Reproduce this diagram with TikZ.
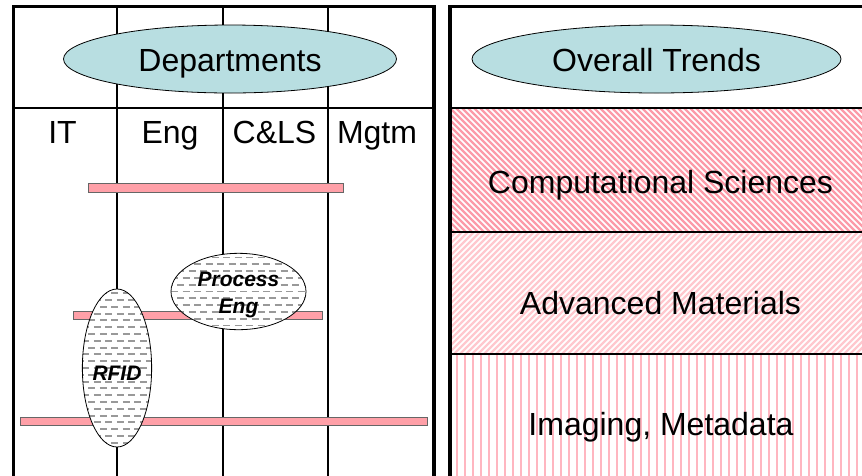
\documentclass[tikz,border=0pt]{standalone}
\usepackage{fontspec}
\setmainfont{Liberation Sans}
\usepackage{xcolor}
\usepackage{tikz}
\usetikzlibrary{shapes.geometric}

\definecolor{headfill}{RGB}{184,222,225}
\definecolor{barpink}{RGB}{255,160,168}
\definecolor{hatchdark}{RGB}{252,155,168}
\definecolor{hatchlight}{RGB}{255,200,206}
\definecolor{hatchvert}{RGB}{255,182,192}

% two-line project titles, dropped a little inside their ellipse
\newcommand\projtext[1]{\raisebox{-3.5pt}[\height][\depth]{\begin{tabular}{@{}c@{}}#1\end{tabular}}}

\tikzset{every picture/.style={x=1pt,y=-1pt},
  frame/.style={line width=3.5pt},
  grid/.style={line width=2pt},
  bar/.style={draw=black!60, line width=0.8pt, fill=barpink},
  heading/.style={ellipse, draw=black, line width=0.8pt, fill=headfill, inner sep=0pt,
    font=\fontsize{32}{38}\selectfont, text height=24pt, text depth=0pt},
  label/.style={anchor=base, font=\fontsize{32}{38}\selectfont},
  project/.style={ellipse, draw=black, line width=0.8pt, fill=white, inner sep=0pt,
    font=\fontsize{21}{27}\selectfont\bfseries\itshape,
    path picture={
      \foreach \k in {-12,...,12}{
        \pgfmathsetmacro\ph{mod(\k+12,2)*5.5}
        \draw[black!40, line width=1.9pt, dash pattern=on 7pt off 4.5pt, dash phase=\ph pt]
          ([yshift=\k*6.8pt]path picture bounding box.west) --
          ([yshift=\k*6.8pt]path picture bounding box.east);
      }
    }}
}

\begin{document}
\begin{tikzpicture}
  \clip (0,0) rectangle (862,475);

  % trend bands
  \begin{scope}
    \clip (452,108) rectangle (862,232);
    \foreach \i in {0,...,95} \draw[hatchdark, line width=2.3pt] (310+\i*6,100) -- ++(140,140);
  \end{scope}
  \begin{scope}
    \clip (452,232) rectangle (862,354);
    \foreach \i in {0,...,95} \draw[hatchlight, line width=2.3pt] (310+\i*6,360) -- ++(140,-140);
  \end{scope}
  \begin{scope}
    \clip (452,354) rectangle (862,475);
    \foreach \i in {0,...,51} \draw[hatchvert, line width=2.5pt] (457+\i*8,354) -- ++(0,125);
  \end{scope}

  % department grid
  \foreach \x in {117,223,328} \draw[grid] (\x,6) -- (\x,480);
  \draw[grid] (13,108) -- (434,108);
  \draw[frame] (13.5,480) -- (13.5,6.5) -- (434,6.5) -- (434,480);

  % trend grid
  \draw[line width=2.7pt] (451,108) -- (870,108);
  \draw[grid] (451,232) -- (870,232);
  \draw[grid] (451,354) -- (870,354);
  \draw[frame] (450,480) -- (450,6.5) -- (870,6.5);

  % collaborations
  \draw[bar] (88,183) rectangle (343,192);
  \draw[bar] (73,311) rectangle (322,319);
  \draw[bar] (20,417) rectangle (427,425);

  \node[heading, minimum width=333pt, minimum height=68pt] (dept) at (230,59) {Departments};
  \node[heading, minimum width=369pt, minimum height=68pt] (trends) at (656.5,59) {Overall Trends};

  \node[label] (it) at (62.5,143) {IT};
  \node[label] (eng) at (170,143) {Eng};
  \node[label] (cls) at (274.5,143) {C\&LS};
  \node[label] (mgtm) at (377,143) {Mgtm};

  \node[label] (comp) at (660.5,193) {Computational Sciences};
  \node[label] (mat) at (660.5,314) {Advanced Materials};
  \node[label] (img) at (661,435) {Imaging, Metadata};

  \node[project, minimum width=135pt, minimum height=69pt] (proc) at (238.5,291.5) {\projtext{Process\\Eng}};
  \node[project, minimum width=68pt, minimum height=158pt, text height=24pt, text depth=0pt] (rfid) at (117,368) {RFID};
\end{tikzpicture}
\end{document}
